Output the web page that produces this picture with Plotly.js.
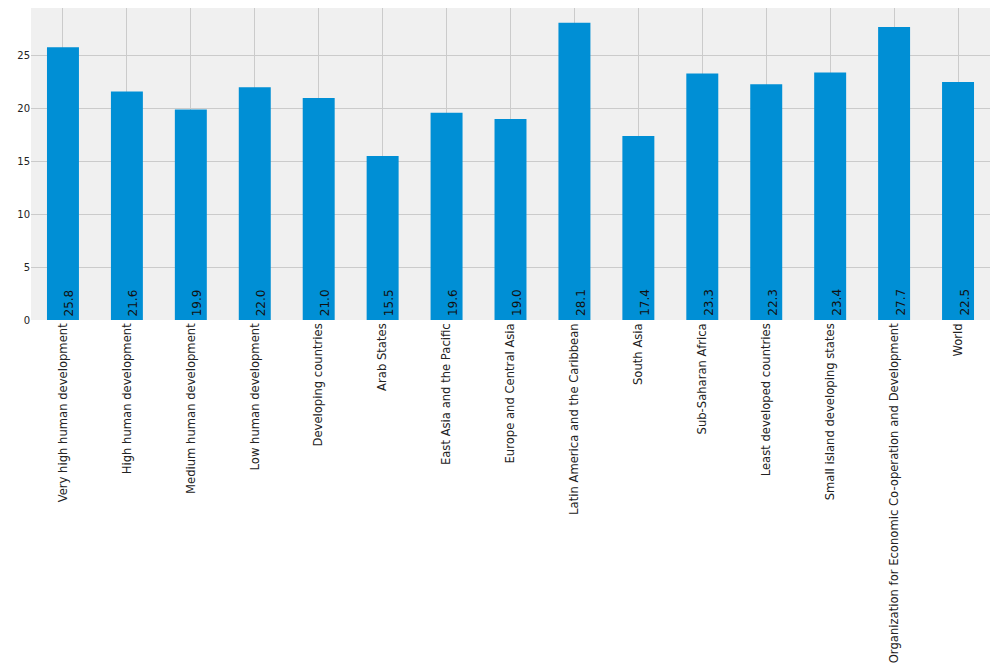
<!DOCTYPE html>
<html><head><meta charset="utf-8">
<script src="https://cdn.plot.ly/plotly-3.0.1.min.js"></script>
<style>html,body{margin:0;padding:0;background:#fff;}</style>
</head><body>
<div id="chart" style="width:997px;height:671px;"></div>
<script>
const categories = ["Very high human development","High human development","Medium human development","Low human development","Developing countries","Arab States","East Asia and the Pacific","Europe and Central Asia","Latin America and the Caribbean","South Asia","Sub-Saharan Africa","Least developed countries","Small island developing states","Organization for Economic Co-operation and Development","World"];
const values = [25.8,21.6,19.9,22.0,21.0,15.5,19.6,19.0,28.1,17.4,23.3,22.3,23.4,27.7,22.5];
const yTicks = [0,5,10,15,20,25];

const idx = categories.map((c,i)=>i);
const trace = {type:'bar', x: idx, y: values, width: 0.5, marker:{color:'#008fd5'}, hoverinfo:'none'};
const annotations = values.map((v,i)=>({
  x: i, y: 0, xref:'x', yref:'y', text: v.toFixed(1), showarrow:false,
  textangle:-90, xanchor:'center', yanchor:'bottom', xshift:6, yshift:2,
  font:{family:'DejaVu Sans', size:12, color:'#111'}
}));
const layout = {
  width:997, height:671, margin:{l:31,r:7,t:8,b:351},
  paper_bgcolor:'#ffffff', plot_bgcolor:'#f0f0f0', showlegend:false,
  font:{family:'DejaVu Sans', size:11, color:'#222'},
  xaxis:{range:[-0.5,14.5], tickmode:'array', tickvals: idx, ticktext: categories, tickangle:-90,
    showgrid:true, gridcolor:'#cbcbcb', gridwidth:1, zeroline:false, showline:false, ticks:'',
    tickfont:{family:'DejaVu Sans', size:11.6, color:'#222'}},
  yaxis:{range:[0,29.5], tickmode:'array', tickvals:yTicks, ticktext: yTicks.map(String),
    showgrid:true, gridcolor:'#cbcbcb', gridwidth:1, zeroline:false, showline:false, ticks:'',
    tickfont:{family:'DejaVu Sans', size:10, color:'#222'}},
  annotations: annotations
};
Plotly.newPlot('chart',[trace],layout,{displayModeBar:false, staticPlot:true});
</script>
</body></html>
